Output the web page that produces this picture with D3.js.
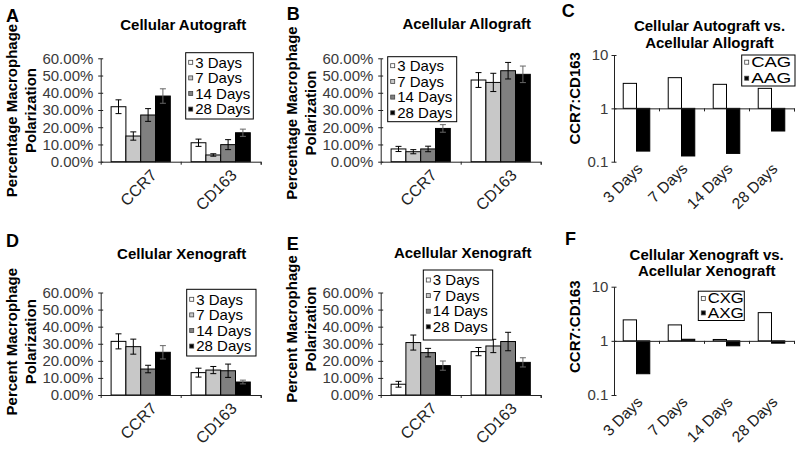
<!DOCTYPE html>
<html>
<head>
<meta charset="utf-8">
<script src="https://cdn.jsdelivr.net/npm/d3@7"></script>
<style>
  body { margin: 0; background: #fff; }
  svg { display: block; font-family: "Liberation Sans", Arial, sans-serif; }
  .tick text { font-size: 15px; fill: #3a3a3a; }
</style>
</head>
<body>
<svg id="fig" width="800" height="449"></svg>
<script>
const markers = ["CCR7", "CD163"];
const days = ["3 Days", "7 Days", "14 Days", "28 Days"];
const pctTicks = [0, 10, 20, 30, 40, 50, 60];
const logTicks = [0.1, 1, 10];

// A: cellular autograft (% polarization, mean and error per day)
const cagCCR7 = [31.9, 14.9, 27.1, 38.1];
const cagCCR7Err = [4.0, 2.4, 3.7, 4.2];
const cagCD163 = [11.0, 3.9, 9.9, 16.8];
const cagCD163Err = [2.1, 0.7, 2.9, 2.1];

// B: acellular allograft
const aagCCR7 = [7.4, 5.8, 7.4, 19.3];
const aagCCR7Err = [1.5, 1.2, 1.6, 2.2];
const aagCD163 = [47.4, 46.0, 52.8, 50.7];
const aagCD163Err = [4.3, 5.3, 4.8, 4.8];

// D: cellular xenograft
const cxgCCR7 = [31.4, 28.3, 15.2, 25.0];
const cxgCCR7Err = [4.4, 4.4, 2.2, 3.9];
const cxgCD163 = [13.1, 14.6, 14.2, 7.6];
const cxgCD163Err = [2.6, 2.1, 3.9, 1.1];

// E: acellular xenograft
const axgCCR7 = [6.3, 30.7, 24.8, 17.2];
const axgCCR7Err = [1.7, 4.4, 2.5, 2.7];
const axgCD163 = [25.4, 28.7, 31.3, 19.1];
const axgCD163Err = [2.4, 3.9, 5.4, 2.7];

// C and F: CCR7:CD163 ratios
const cagRatio = [2.94, 3.76, 2.82, 2.37];
const aagRatio = [0.158, 0.128, 0.143, 0.376];
const cxgRatio = [2.44, 1.97, 1.06, 3.32];
const axgRatio = [0.247, 1.07, 0.81, 0.906];

const fills = ["#ffffff", "#c8c8c8", "#808080", "#000000"];
const svg = d3.select("#fig");

const barPanels = [
  { letter: "A", lx: 6, ly: 21.7, title: "Cellular Autograft", tx: 183.3, ty: 29.5,
    ylab: ["Percentage Macrophage", "Polarization"], ylabY: 110.5,
    x0: 100.7, x1: 260.7, yTop: 58.3, yBot: 161.7,
    ccr7: cagCCR7, ccr7Err: cagCCR7Err, cd163: cagCD163, cd163Err: cagCD163Err,
    legend: { x: 185.7, y: 52.7, w: 67.6, h: 66.3, row0: 9.6, gap: 15.6 } },
  { letter: "B", lx: 286.7, ly: 20, title: "Acellular Allograft", tx: 466.7, ty: 28.5,
    ylab: ["Percentage Macrophage", "Polarization"], ylabY: 113, ylabDx: 280,
    x0: 380.7, x1: 540.7, yTop: 58.3, yBot: 161.7,
    ccr7: aagCCR7, ccr7Err: aagCCR7Err, cd163: aagCD163, cd163Err: aagCD163Err,
    legend: { x: 387.7, y: 56.7, w: 69, h: 65, row0: 9, gap: 15.7 } },
  { letter: "D", lx: 6, ly: 246.7, title: "Cellular Xenograft", tx: 181.7, ty: 259.3,
    ylab: ["Percent Macrophage", "Polarization"], ylabY: 341.7,
    x0: 100.7, x1: 260.7, yTop: 292.5, yBot: 395,
    ccr7: cxgCCR7, ccr7Err: cxgCCR7Err, cd163: cxgCD163, cd163Err: cxgCD163Err,
    legend: { x: 186.7, y: 289.3, w: 69.3, h: 66.7, row0: 10, gap: 15.6 } },
  { letter: "E", lx: 286.7, ly: 250, title: "Acellular Xenograft", tx: 462.7, ty: 258.3,
    ylab: ["Percent Macrophage", "Polarization"], ylabY: 329, ylabDx: 280,
    x0: 380.7, x1: 540.7, yTop: 292.5, yBot: 395,
    ccr7: axgCCR7, ccr7Err: axgCCR7Err, cd163: axgCD163, cd163Err: axgCD163Err,
    legend: { x: 423.3, y: 270, w: 69.4, h: 70, row0: 10, gap: 15.6 } }
];

const logPanels = [
  { letter: "C", lx: 561.7, ly: 16.7, title: ["Cellular Autograft vs.", "Acellular Allograft"],
    tx: 709.5, ty: [31.3, 48], ylabY: 98.3,
    x0: 614, x1: 794, yTop: 55, yBot: 161.7,
    names: ["CAG", "AAG"], series: [cagRatio, aagRatio],
    legend: { x: 741.7, y: 55, w: 53.3, h: 31, row0: 7.2, gap: 16, len: 40, fs: 15 } },
  { letter: "F", lx: 565, ly: 245, title: ["Cellular Xenograft vs.", "Acellular Xenograft"],
    tx: 706.7, ty: [259.5, 275.8], ylabY: 326.7,
    x0: 614, x1: 794, yTop: 286.7, yBot: 395,
    names: ["CXG", "AXG"], series: [cxgRatio, axgRatio],
    legend: { x: 698.3, y: 291.2, w: 46, h: 29.3, row0: 7.2, gap: 14.5, len: 36, fs: 14 } }
];

function styleAxis(sel, textX) {
  sel.attr("font-size", null).attr("font-family", null).attr("color", "#222");
  sel.selectAll(".tick line").attr("x1", 2.5);
  sel.selectAll(".tick text").attr("x", textX);
}

function drawLegend(g, lg, names, colors) {
  const box = g.append("g").attr("transform", `translate(${lg.x},${lg.y})`);
  box.append("rect").attr("width", lg.w).attr("height", lg.h)
    .attr("fill", "#fff").attr("stroke", "#000").attr("stroke-width", 1);
  const item = box.selectAll("g.item").data(names).join("g")
    .attr("transform", (d, i) => `translate(0,${lg.row0 + i * lg.gap})`);
  item.append("rect").attr("x", 3).attr("y", -2).attr("width", 4).attr("height", 4)
    .attr("fill", (d, i) => colors[i]).attr("stroke", "#444").attr("stroke-width", 0.8);
  const t = item.append("text").attr("x", 9.5).attr("dy", "0.35em")
    .attr("font-size", lg.fs || 15).attr("fill", "#000").text(d => d);
  if (lg.len) t.attr("textLength", lg.len).attr("lengthAdjust", "spacingAndGlyphs");
}

function drawBarPanel(p) {
  const g = svg.append("g");
  const x = d3.scaleBand().domain(markers).range([p.x0, p.x1]).paddingInner(0.26).paddingOuter(0.13);
  const xDay = d3.scaleBand().domain(days).range([0, x.bandwidth()]);
  const y = d3.scaleLinear().domain([0, 60]).range([p.yBot, p.yTop]);
  const src = { CCR7: [p.ccr7, p.ccr7Err], CD163: [p.cd163, p.cd163Err] };
  const rows = markers.flatMap(m => days.map((d, i) => ({ m, d, i, v: src[m][0][i], e: src[m][1][i] })));

  g.selectAll("rect.bar").data(rows).join("rect").attr("class", "bar")
    .attr("x", r => x(r.m) + xDay(r.d)).attr("width", xDay.bandwidth())
    .attr("y", r => y(r.v)).attr("height", r => y(0) - y(r.v))
    .attr("fill", r => fills[r.i]).attr("stroke", "#000").attr("stroke-width", 1);

  const err = g.selectAll("g.err").data(rows).join("g").attr("class", "err")
    .attr("transform", r => `translate(${x(r.m) + xDay(r.d) + xDay.bandwidth() / 2},0)`)
    .attr("stroke", r => r.i === 3 ? "#666" : "#000").attr("stroke-width", 1);
  err.append("line").attr("y1", r => y(r.v - r.e)).attr("y2", r => y(r.v + r.e));
  err.append("line").attr("x1", -3).attr("x2", 3).attr("y1", r => y(r.v + r.e)).attr("y2", r => y(r.v + r.e));
  err.append("line").attr("x1", -3).attr("x2", 3).attr("y1", r => y(r.v - r.e)).attr("y2", r => y(r.v - r.e));

  const ya = g.append("g").attr("transform", `translate(${p.x0},0)`)
    .call(d3.axisLeft(y).tickValues(pctTicks).tickFormat(v => v.toFixed(2) + "%").tickSizeOuter(0).tickSizeInner(2.5));
  styleAxis(ya, -7.4);

  const xb = d3.scaleLinear().domain([0, markers.length]).range([p.x0, p.x1]);
  const xa = g.append("g").attr("transform", `translate(0,${p.yBot})`)
    .call(d3.axisBottom(xb).tickValues(d3.range(1, markers.length + 1)).tickFormat("").tickSizeOuter(0).tickSize(3));
  xa.attr("color", "#222");

  g.selectAll("text.cat").data(markers).join("text").attr("class", "cat")
    .attr("text-anchor", "end").attr("font-size", 16).attr("fill", "#222")
    .attr("transform", m => `translate(${x(m) + x.bandwidth() / 2 + 17},${p.yBot + 14.5}) rotate(-45)`)
    .text(m => m);

  const dx = p.ylabDx || 0;
  g.selectAll("text.ylab").data(p.ylab).join("text").attr("class", "ylab")
    .attr("text-anchor", "middle").attr("font-size", 15).attr("font-weight", "bold")
    .attr("transform", (t, i) => `translate(${dx + 17.3 + i * 18.4},${p.ylabY}) rotate(-90)`)
    .text(t => t);

  g.append("text").attr("x", p.tx).attr("y", p.ty).attr("text-anchor", "middle")
    .attr("font-size", 15).attr("font-weight", "bold").text(p.title);
  g.append("text").attr("x", p.lx).attr("y", p.ly).attr("font-size", 18)
    .attr("font-weight", "bold").text(p.letter);

  drawLegend(g, p.legend, days, fills);
}

function drawLogPanel(p) {
  const g = svg.append("g");
  const x = d3.scaleBand().domain(days).range([p.x0, p.x1]).paddingInner(0.41).paddingOuter(0.205);
  const xs = d3.scaleBand().domain(p.names).range([0, x.bandwidth()]);
  const y = d3.scaleLog().domain([0.1, 10]).range([p.yBot, p.yTop]);
  const colors = ["#ffffff", "#000000"];
  const rows = days.flatMap((d, i) => p.names.map((n, k) => ({ d, n, k, v: p.series[k][i] })));

  g.selectAll("rect.bar").data(rows).join("rect").attr("class", "bar")
    .attr("x", r => x(r.d) + xs(r.n)).attr("width", xs.bandwidth())
    .attr("y", r => Math.min(y(r.v), y(1))).attr("height", r => Math.abs(y(r.v) - y(1)))
    .attr("fill", r => colors[r.k]).attr("stroke", "#000").attr("stroke-width", 1);

  const ya = g.append("g").attr("transform", `translate(${p.x0},0)`)
    .call(d3.axisLeft(y).tickValues(logTicks).tickFormat(v => String(v)).tickSizeOuter(0).tickSizeInner(2.5));
  styleAxis(ya, -5.7);

  const xb = d3.scaleLinear().domain([0, days.length]).range([p.x0, p.x1]);
  const xa = g.append("g").attr("transform", `translate(0,${y(1)})`)
    .call(d3.axisBottom(xb).tickValues(d3.range(1, days.length + 1)).tickFormat("").tickSizeOuter(0).tickSize(3));
  xa.attr("color", "#222");

  g.selectAll("text.cat").data(days).join("text").attr("class", "cat")
    .attr("text-anchor", "end").attr("font-size", 15.5).attr("fill", "#222")
    .attr("transform", d => `translate(${x(d) + x.bandwidth() / 2 + 7},${p.yBot + 8}) rotate(-45)`)
    .text(d => d);

  g.append("text").attr("text-anchor", "middle").attr("font-size", 15).attr("font-weight", "bold")
    .attr("transform", `translate(580,${p.ylabY}) rotate(-90)`).text("CCR7:CD163");

  g.selectAll("text.title").data(p.title).join("text").attr("class", "title")
    .attr("x", p.tx).attr("y", (t, i) => p.ty[i]).attr("text-anchor", "middle")
    .attr("font-size", 15).attr("font-weight", "bold").text(t => t);
  g.append("text").attr("x", p.lx).attr("y", p.ly).attr("font-size", 18)
    .attr("font-weight", "bold").text(p.letter);

  drawLegend(g, p.legend, p.names, colors);
}

barPanels.forEach(drawBarPanel);
logPanels.forEach(drawLogPanel);
</script>
</body>
</html>
